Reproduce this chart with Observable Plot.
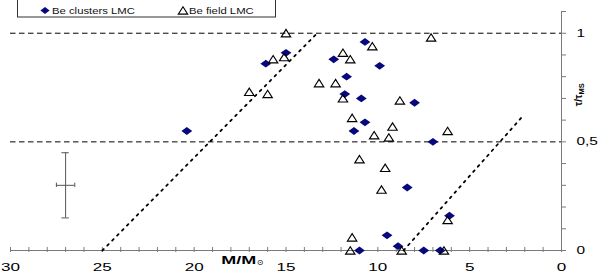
<!DOCTYPE html>
<html><head><meta charset="utf-8">
<script src="https://cdn.jsdelivr.net/npm/d3@7"></script>
<script src="https://cdn.jsdelivr.net/npm/@observablehq/plot@0.6"></script>
<style>
body{margin:0;background:#fff;}
#wrap{width:599px;height:273px;overflow:hidden;}
</style></head><body><div id="wrap"></div>
<script>
// Be clusters LMC (filled diamonds)
const clusterMass = [20.4, 15.0, 16.1, 10.7, 12.4, 9.9, 11.7, 11.8, 10.9, 8.0, 10.7, 11.3, 7.0, 8.4, 6.1, 9.5, 8.9, 11.0, 7.5, 6.6];
const clusterAge  = [0.55, 0.91, 0.86, 0.96, 0.88, 0.85, 0.80, 0.72, 0.70, 0.68, 0.59, 0.55, 0.50, 0.29, 0.16, 0.07, 0.02, 0.0, 0.0, 0.0];
// Be field LMC (open triangles)
const fieldMass = [15.0, 15.7, 15.1, 17.0, 16.0, 7.1, 10.3, 11.9, 11.5, 13.2, 12.3, 11.9, 8.8, 11.4, 9.2, 6.2, 10.2, 9.4, 11.0, 9.6, 9.8, 6.2, 11.4, 11.5, 8.7, 6.4];
const fieldAge  = [1.0, 0.88, 0.89, 0.73, 0.72, 0.98, 0.94, 0.91, 0.88, 0.77, 0.77, 0.70, 0.69, 0.61, 0.57, 0.55, 0.53, 0.52, 0.42, 0.38, 0.28, 0.14, 0.06, 0.0, 0.0, 0.0];
// dotted limit lines
const line1Mass = [25, 13.3], line1Age = [0, 1.0];
const line2Mass = [8.6, 2.2], line2Age = [0, 0.61];
// dashed reference levels
const refLevels = [0.5, 1];
// error bar
const errMass = 27, errAge = 0.3, errDMass = 0.5, errDAge = 0.15;
// ticks
const ticksX = d3.range(0, 31);
const labelTicksX = [0, 5, 10, 15, 20, 25, 30];
const ticksY = d3.range(0, 12).map(i => i / 10);
const labelTicksY = [0, 0.5, 1];
const legendLabels = ["Be clusters LMC", "Be field LMC"];
const xLabel = "M/M", xLabelSub = "\u2299";
const yLabel = "\u03c4/\u03c4", yLabelSub = "MS";

const navy = "#08087e";
const triPath = "M0,-3.8L4.7,3.6L-4.7,3.6Z";
const wideDiamond = {draw(ctx) { ctx.moveTo(0, -3.9); ctx.lineTo(5.4, 0); ctx.lineTo(0, 3.9); ctx.lineTo(-5.4, 0); ctx.closePath(); }};
const openTri = {draw(ctx) { ctx.moveTo(0, -3.8); ctx.lineTo(4.7, 3.6); ctx.lineTo(-4.7, 3.6); ctx.closePath(); }};

const clusters = clusterMass.map((m, i) => ({m, a: clusterAge[i]}));
const field = fieldMass.map((m, i) => ({m, a: fieldAge[i]}));
const line1 = line1Mass.map((m, i) => ({m, a: line1Age[i]}));
const line2 = line2Mass.map((m, i) => ({m, a: line2Age[i]}));

const grey = "#7a7a7a";
const plot = Plot.plot({
  width: 599, height: 273,
  marginLeft: 10, marginRight: 38, marginTop: 11, marginBottom: 23,
  x: {domain: [30, 0]},
  y: {domain: [0, 1.1]},
  style: {fontFamily: "'Liberation Sans', Arial, sans-serif", fontSize: "11px", background: "white", color: "black"},
  marks: [
    Plot.axisX({ticks: ticksX, tickSize: 5, dy: -3, tickFormat: () => "", stroke: grey, label: null}),
    Plot.axisX({ticks: labelTicksX, tickSize: 0, tickPadding: 13, tickFormat: d => String(d), fill: "black", label: null}),
    Plot.axisY({anchor: "right", ticks: ticksY, tickSize: 4, tickFormat: () => "", stroke: grey, label: null}),
    Plot.axisY({anchor: "right", ticks: labelTicksY, tickSize: 0, tickPadding: 15, tickFormat: d => String(d).replace(".", ","), fill: "black", label: null}),
    Plot.ruleY([0], {stroke: grey}),
    Plot.ruleX([0], {stroke: grey}),
    Plot.ruleY(refLevels, {stroke: "black", strokeDasharray: "5.5,3.5", strokeWidth: 1}),
    Plot.line(line1, {x: "m", y: "a", stroke: "black", strokeWidth: 1.8, strokeDasharray: "2,5"}),
    Plot.line(line2, {x: "m", y: "a", stroke: "black", strokeWidth: 1.8, strokeDasharray: "2,5"}),
    Plot.ruleX([errMass], {y1: errAge - errDAge, y2: errAge + errDAge, stroke: "#555"}),
    Plot.ruleY([errAge], {x1: errMass + errDMass, x2: errMass - errDMass, stroke: "#555"}),
    Plot.ruleY([errAge - errDAge, errAge + errDAge], {x1: errMass + 0.2, x2: errMass - 0.2, stroke: "#555"}),
    Plot.ruleX([errMass - errDMass, errMass + errDMass], {y1: errAge - 0.01, y2: errAge + 0.01, stroke: "#555"}),
    Plot.dot(clusters, {x: "m", y: "a", symbol: wideDiamond, fill: navy, stroke: "none"}),
    Plot.dot(field, {x: "m", y: "a", symbol: openTri, fill: "none", stroke: "black", strokeWidth: 1.15})
  ]
});
document.getElementById("wrap").appendChild(plot);

function stretchNode(t, k) {
  const L = t.getComputedTextLength();
  if (L > 0) { t.setAttribute("textLength", L * k); t.setAttribute("lengthAdjust", "spacingAndGlyphs"); }
  return L * k;
}
plot.querySelectorAll('g[aria-label="x-axis tick label"] text').forEach(t => stretchNode(t, 1.55));
plot.querySelectorAll('g[aria-label="y-axis tick label"] text').forEach(t => stretchNode(t, 1.4));

const sx = plot.scale("x"), sy = plot.scale("y");
const svg = d3.select(plot);

// x axis label M/M⊙
const xl = svg.append("text").attr("x", sx.apply(18.5)).attr("y", sy.apply(0) + 14).attr("text-anchor", "start")
  .attr("font-weight", "bold").attr("font-size", 10).attr("fill", "black").text(xLabel);
const xlL = stretchNode(xl.node(), 1.8);
svg.append("text").attr("x", sx.apply(18.5) + xlL + 0.5).attr("y", sy.apply(0) + 15).attr("text-anchor", "start")
  .attr("font-size", 8).attr("font-family", "'DejaVu Sans', sans-serif").attr("fill", "black").text(xLabelSub);

// y axis label τ/τMS
const yl = svg.append("text").attr("transform", `translate(${sx.apply(-1.15)},${sy.apply(0.715)}) rotate(-90)`)
  .attr("text-anchor", "middle").attr("font-weight", "bold").attr("font-size", 10).attr("fill", "black");
yl.append("tspan").text(yLabel);
yl.append("tspan").attr("font-size", 7.5).attr("dy", 2).text(yLabelSub);

// legend box
const lg = svg.append("g").attr("text-anchor", "start");
lg.append("rect").attr("x", 17.5).attr("y", -1).attr("width", 258).attr("height", 18)
  .attr("fill", "white").attr("stroke", "#333").attr("stroke-width", 1);
const legPos = [{icon: 45, text: 52}, {icon: 183, text: 189}];
legendLabels.forEach((lab, i) => {
  if (i === 0) lg.append("path").attr("transform", `translate(${legPos[i].icon},10.5)`).attr("d", "M0,-3.4L4.6,0L0,3.4L-4.6,0Z").attr("fill", navy);
  else lg.append("path").attr("transform", `translate(${legPos[i].icon},10.5)`).attr("d", triPath).attr("fill", "none").attr("stroke", "black").attr("stroke-width", 1.1);
  const t = lg.append("text").attr("x", legPos[i].text).attr("y", 14.2).attr("font-size", 9.5).attr("fill", "#111").text(lab);
  stretchNode(t.node(), 1.19);
});
</script></body></html>
